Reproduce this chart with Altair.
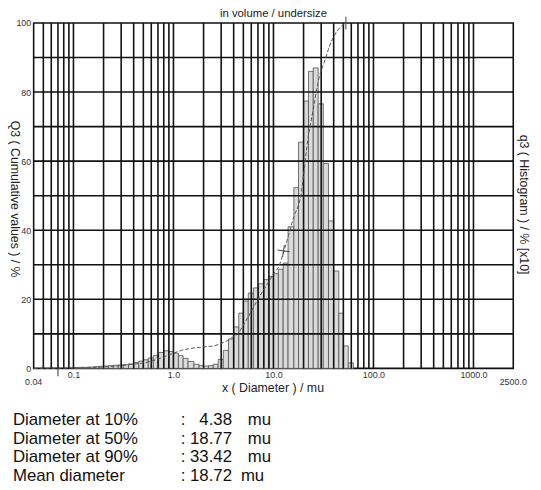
import altair as alt
import pandas as pd

FONT = "Liberation Sans"

# ---- histogram (q3, x10) ----
bin_edges = [0.1, 0.112, 0.125, 0.14, 0.16, 0.18, 0.2, 0.224, 0.25, 0.28, 0.315, 0.355,
             0.4, 0.45, 0.5, 0.56, 0.63, 0.71, 0.8, 0.9, 1.0, 1.12, 1.25, 1.4, 1.6, 1.8,
             2.0, 2.24, 2.5, 2.8, 3.15, 3.55, 4.0, 4.5, 5.0, 5.6, 6.3, 7.1, 8.0, 9.0,
             10.0, 11.2, 12.5, 14.0, 16.0, 17.8, 20.0, 22.4, 25.0, 28.0, 31.5, 35.5,
             40.0, 45.0, 50.0, 56.0, 63.0]
q3_hist = [0.2, 0.3, 0.3, 0.4, 0.5, 0.6, 0.7, 0.8, 0.9, 1.0, 1.1, 1.3,
           1.7, 2.1, 2.5, 3.0, 3.7, 4.6, 5.1, 4.9, 4.4, 3.7, 2.9, 2.0, 1.2,
           0.8, 0.7, 0.8, 1.2, 2.6, 5.2, 8.5, 12.0, 16.0, 19.5, 21.8, 23.3, 24.5, 25.7,
           26.6, 27.4, 28.7, 30.5, 41.0, 52.3, 65.5, 77.4, 86.0, 87.0, 76.6, 59.3,
           42.7, 28.2, 16.0, 6.5, 1.6]

# ---- cumulative curve (Q3) ----
cum_size = [0.04, 0.1, 0.2, 0.3, 0.4, 0.5, 0.6, 0.7, 0.8, 0.9, 1.0, 1.2, 1.5, 2.0, 2.6,
            3.0, 3.5, 4.0, 4.38, 5.0, 6.0, 7.0, 8.5, 10.0, 11.5, 12.6, 14.0, 16.0, 18.0,
            18.77, 20.0, 22.0, 25.0, 28.0, 33.42, 36.0, 40.0, 45.0, 50.0, 53.0]
cum_q3 = [0.0, 0.1, 0.4, 0.8, 1.2, 1.6, 2.1, 2.7, 3.3, 3.9, 4.4, 5.2, 5.8, 6.2, 6.6,
          7.2, 8.1, 9.3, 10.0, 12.5, 16.5, 20.0, 24.0, 27.3, 30.0, 33.6, 38.0, 44.0, 47.8,
          50.0, 56.0, 66.0, 75.0, 83.0, 90.0, 93.0, 96.0, 98.3, 99.5, 100.0]

marker_size = [12.6]
marker_q3 = [34.0]
end_size = [53.0]
end_q3 = [100.0]
small_tick = [0.07]

x_grid = [0.05, 0.06, 0.07, 0.08, 0.09, 0.1, 0.2, 0.3, 0.4, 0.5, 0.6, 0.7, 0.8, 0.9,
          1, 2, 3, 4, 5, 6, 7, 8, 9, 10, 20, 30, 40, 50, 60, 70, 80, 90,
          100, 200, 300, 400, 500, 600, 700, 800, 900, 1000]
y_grid = [10, 20, 30, 40, 50, 60, 70, 80, 90]
x_labels = [0.1, 1, 10, 100, 1000]
y_labels = [0, 20, 40, 60, 80, 100]
edge_labels = [0.04, 2500]

stat_names = ["Diameter at 10%", "Diameter at 50%", "Diameter at 90%", "Mean diameter"]
stat_values = ["4.38", "18.77", "33.42", "18.72"]
stat_unit = "mu"

hist_df = pd.DataFrame({"lo": bin_edges[:-1], "hi": bin_edges[1:], "q3": q3_hist})
cum_df = pd.DataFrame({"size": cum_size, "Q3": cum_q3})

xs = alt.Scale(type="log", domain=[0.04, 2500], nice=False)
ys = alt.Scale(domain=[0, 100], nice=False)

bars = alt.Chart(hist_df).mark_rect(
    fill="#dadada", stroke="#505050", strokeWidth=0.8
).encode(
    x=alt.X("lo:Q", scale=xs, axis=alt.Axis(
        values=x_labels, labelExpr="format(datum.value, '.1f')", ticks=False,
        domain=False, grid=False, labelFontSize=9, labelColor="#333", labelFont=FONT,
        labelPadding=6, labelBaseline="middle", labelOverlap=False, labelFlush=False,
        title="x ( Diameter ) / mu", titleFont=FONT, titleFontSize=12.5,
        titleFontWeight="normal", titleColor="#222", titleX=242, titleY=19,
        titleBaseline="middle", titleAlign="center")),
    x2="hi:Q",
    y=alt.Y("q3:Q", scale=ys, axis=alt.Axis(
        values=y_labels, ticks=False, domain=False, grid=False, labelFontSize=9,
        labelColor="#333", labelFont=FONT, labelPadding=3, labelBaseline="middle",
        labelOverlap=False, labelFlush=False,
        title="Q3 ( Cumulative values ) / %", titleFont=FONT, titleFontSize=12.5,
        titleFontWeight="normal", titleColor="#222", titleAngle=90, titleX=-19,
        titleY=178, titleBaseline="middle", titleAlign="center")),
    y2=alt.datum(0),
)

xgrid = alt.Chart(pd.DataFrame({"g": x_grid})).mark_rule(
    color="#111", strokeWidth=1.6).encode(x=alt.X("g:Q", scale=xs))
ygrid = alt.Chart(pd.DataFrame({"h": y_grid})).mark_rule(
    color="#111", strokeWidth=1.6).encode(y=alt.Y("h:Q", scale=ys))

curve = alt.Chart(cum_df).mark_line(
    color="#555", strokeWidth=1, strokeDash=[4, 2], interpolate="monotone"
).encode(x=alt.X("size:Q", scale=xs), y=alt.Y("Q3:Q", scale=ys))

marker = alt.Chart(pd.DataFrame({"s": marker_size, "v": marker_q3})).mark_point(
    shape="M-1,0L1,0M0,-1L0,1", size=150, filled=False, color="#444",
    strokeWidth=1, angle=8, opacity=1
).encode(x=alt.X("s:Q", scale=xs), y=alt.Y("v:Q", scale=ys))

endtick = alt.Chart(pd.DataFrame({"s": end_size, "v": end_q3})).mark_point(
    shape="M0,-1L0,1", size=169, filled=False, color="#444", strokeWidth=1, opacity=1
).encode(x=alt.X("s:Q", scale=xs), y=alt.Y("v:Q", scale=ys))

tick07 = alt.Chart(pd.DataFrame({"s": small_tick})).mark_rule(
    color="#333", strokeWidth=1
).encode(x=alt.X("s:Q", scale=xs), y=alt.value(350), y2=alt.value(358))

edge_df = pd.DataFrame({"s": edge_labels, "t": ["0.04", "2500.0"]})
edge_lab = alt.Chart(edge_df).mark_text(
    fontSize=9, font=FONT, color="#333", baseline="middle", align="center"
).encode(x=alt.X("s:Q", scale=xs), y=alt.value(364), text="t:N")


def label(text, x, y, size, align="left", baseline="alphabetic", angle=0, color="#222"):
    return alt.Chart(pd.DataFrame({"t": [text]})).mark_text(
        align=align, baseline=baseline, fontSize=size, font=FONT, color=color,
        angle=angle, lineBreak="\n", lineHeight=18.8
    ).encode(x=alt.value(x), y=alt.value(y), text="t:N")


top_title = label("in volume / undersize", 243, -9, 11.5, align="center", baseline="middle")
right_title = label("q3 ( Histogram ) / % [x10]", 497, 184, 12.5, align="center",
                    baseline="middle", angle=90)
col_names = label("\n".join(stat_names), -21, 407.5, 17, color="#111")
col_colon = label("\n".join([":"] * len(stat_values)), 149, 407.5, 17, color="#111")
col_vals = label("\n".join(stat_values), 201, 407.5, 17, align="right", color="#111")
col_mu = label("\n".join([stat_unit] * 3), 217, 407.5, 17, color="#111")
col_mu4 = label(stat_unit, 210, 407.5 + 3 * 18.8, 17, color="#111")

chart = alt.layer(
    bars, xgrid, ygrid, curve, marker, endtick, tick07, edge_lab,
    top_title, right_title, col_names, col_colon, col_vals, col_mu, col_mu4
).properties(
    width=486, height=350,
    padding={"left": 26, "top": 12, "right": 20, "bottom": 117},
    autosize=alt.AutoSizeParams(type="none"),
).configure_view(stroke="#111", strokeWidth=1.6)

chart.save("out.html", embed_options={"renderer": "svg", "actions": False})
